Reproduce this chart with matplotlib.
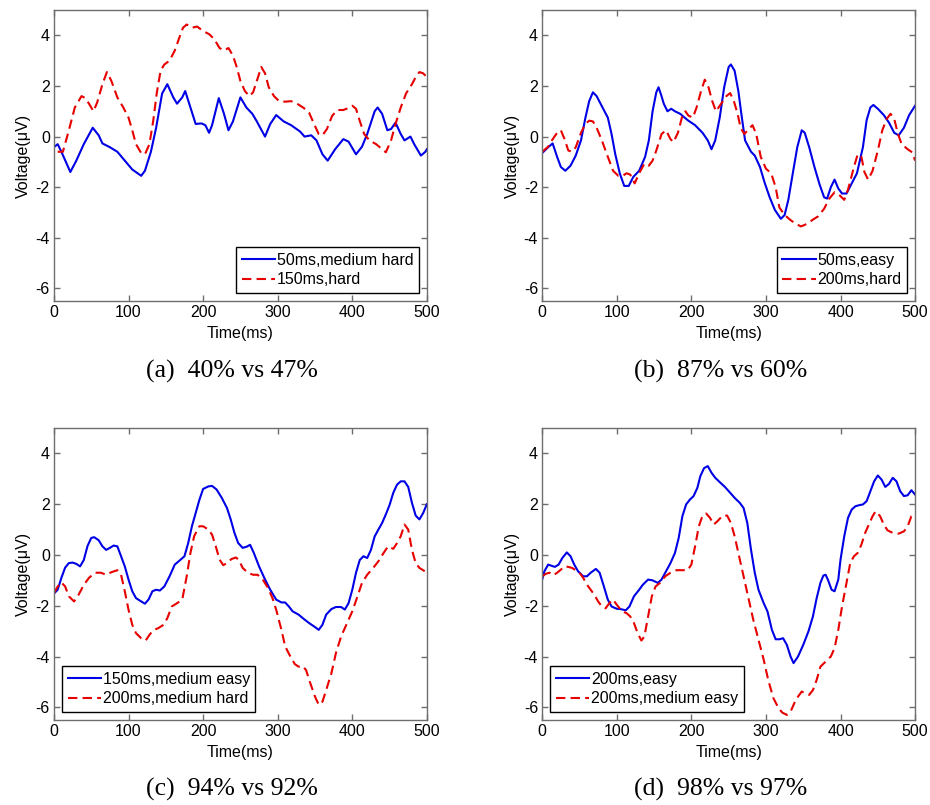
import matplotlib
matplotlib.use('Agg')
import matplotlib.pyplot as plt

plt.rcParams['font.family'] = ['Liberation Sans', 'DejaVu Sans']
plt.rcParams['axes.unicode_minus'] = False

# ---- panel (a) ----
a_blue_t = [0, 5, 10, 22, 30, 40, 52, 60, 65, 75, 85, 95, 105, 117, 122, 130, 137, 145, 152, 160,
            165, 172, 176, 183, 190, 198, 203, 208, 212, 221, 228, 234, 240, 250, 258, 266, 272,
            283, 290, 298, 308, 318, 330, 336, 345, 352, 360, 367, 377, 388, 395, 405, 413, 420,
            430, 434, 440, 447, 452, 458, 465, 470, 478, 483, 492, 498, 500]
a_blue_v = [-0.42, -0.3, -0.6, -1.4, -0.95, -0.3, 0.35, 0.05, -0.27, -0.42, -0.6, -0.95, -1.3,
            -1.55, -1.35, -0.6, 0.35, 1.7, 2.07, 1.55, 1.3, 1.55, 1.8, 1.15, 0.5, 0.52, 0.45, 0.15,
            0.45, 1.52, 0.9, 0.25, 0.6, 1.55, 1.15, 0.9, 0.6, 0.0, 0.5, 0.85, 0.6, 0.45, 0.2, 0.0,
            0.05, -0.15, -0.7, -0.95, -0.5, -0.1, -0.2, -0.7, -0.4, 0.1, 1.0, 1.15, 0.9, 0.25, 0.3,
            0.55, 0.1, -0.15, 0.0, -0.3, -0.75, -0.6, -0.5]
a_red_t = [5, 12, 20, 28, 37, 42, 47, 53, 58, 65, 71, 77, 85, 93, 100, 105, 110, 117, 122, 128,
           133, 138, 143, 148, 155, 162, 168, 173, 178, 185, 192, 200, 208, 215, 222, 228, 234,
           240, 245, 250, 256, 262, 267, 272, 278, 283, 288, 295, 302, 310, 318, 326, 335, 342,
           348, 355, 360, 366, 373, 380, 388, 395, 400, 405, 410, 416, 423, 432, 440, 445, 452,
           458, 465, 472, 480, 485, 490, 495, 500]
a_red_v = [-0.6, -0.6, 0.25, 1.15, 1.6, 1.52, 1.3, 1.0, 1.35, 2.07, 2.55, 2.2, 1.55, 1.15, 0.75,
           0.25, -0.3, -0.65, -0.7, -0.3, 0.6, 1.75, 2.6, 2.85, 3.0, 3.4, 3.9, 4.3, 4.43, 4.3,
           4.35, 4.17, 4.05, 3.85, 3.5, 3.4, 3.5, 3.2, 2.75, 2.2, 1.8, 1.6, 1.75, 2.2, 2.75, 2.5,
           1.95, 1.6, 1.4, 1.38, 1.4, 1.3, 1.13, 0.95, 0.55, 0.1, 0.05, 0.3, 0.82, 1.05, 1.05,
           1.13, 1.22, 1.1, 0.62, 0.1, -0.15, -0.3, -0.5, -0.62, -0.15, 0.5, 1.15, 1.7, 2.07,
           2.35, 2.55, 2.5, 2.35]

# ---- panel (b) ----
b_blue_t = [0, 8, 14, 20, 25, 31, 38, 45, 52, 58, 63, 68, 73, 80, 88, 93, 98, 104, 110, 116, 122,
            130, 138, 143, 148, 153, 156, 160, 163, 168, 173, 178, 185, 195, 205, 215, 222, 227,
            232, 238, 244, 250, 253, 258, 263, 267, 272, 280, 285, 292, 298, 305, 312, 320, 325,
            330, 336, 342, 348, 352, 358, 365, 372, 378, 382, 387, 392, 397, 402, 408, 415, 422,
            430, 435, 440, 444, 450, 458, 465, 472, 478, 485, 492, 500]
b_blue_v = [-0.65, -0.42, -0.27, -0.8, -1.2, -1.35, -1.15, -0.75, -0.15, 0.75, 1.4, 1.75, 1.6,
            1.2, 0.75, 0.1, -0.7, -1.45, -1.95, -1.95, -1.6, -1.35, -0.8, -0.15, 1.0, 1.75, 1.95,
            1.6, 1.3, 1.0, 1.1, 1.0, 0.9, 0.65, 0.45, 0.15, -0.15, -0.5, -0.15, 0.75, 1.95, 2.75,
            2.85, 2.6, 1.8, 0.9, -0.15, -0.6, -0.75, -1.2, -1.8, -2.4, -2.9, -3.25, -3.1, -2.5,
            -1.45, -0.42, 0.25, 0.15, -0.42, -1.2, -1.9, -2.4, -2.45, -2.0, -1.7, -2.05, -2.25,
            -2.25, -1.85, -1.45, -0.42, 0.65, 1.15, 1.25, 1.1, 0.85, 0.55, 0.15, 0.05, 0.35, 0.85,
            1.22]
b_red_t = [0, 8, 13, 20, 25, 30, 35, 40, 45, 52, 58, 63, 68, 73, 80, 88, 95, 102, 108, 113, 118,
           124, 130, 137, 143, 148, 153, 160, 166, 172, 176, 182, 188, 192, 196, 202, 207, 213,
           218, 223, 228, 233, 240, 247, 252, 257, 262, 266, 271, 277, 282, 287, 293, 300, 307,
           313, 318, 325, 333, 340, 347, 355, 362, 370, 378, 385, 392, 398, 405, 410, 418, 423,
           428, 432, 437, 443, 450, 456, 462, 467, 472, 477, 482, 490, 496, 500]
b_red_v = [-0.6, -0.4, -0.15, 0.15, 0.25, -0.1, -0.55, -0.6, -0.42, 0.15, 0.5, 0.63, 0.6, 0.35,
           -0.15, -0.8, -1.35, -1.55, -1.55, -1.45, -1.5, -1.85, -1.45, -1.07, -1.15, -0.95,
           -0.55, 0.1, 0.25, -0.1, -0.22, 0.15, 0.83, 1.0, 0.83, 0.75, 1.15, 1.8, 2.25, 1.95, 1.4,
           1.0, 1.3, 1.6, 1.72, 1.4, 0.9, 0.35, 0.1, 0.3, 0.45, 0.1, -0.8, -1.27, -1.45, -2.0,
           -2.8, -3.1, -3.3, -3.45, -3.55, -3.45, -3.3, -3.15, -2.85, -2.45, -2.2, -2.3, -2.5,
           -2.1, -1.2, -0.7, -0.8, -1.4, -1.7, -1.35, -0.55, 0.25, 0.7, 0.9, 0.7, 0.1, -0.3, -0.5,
           -0.62, -0.95]

# ---- panel (c) ----
c_blue_t = [0, 5, 10, 15, 20, 25, 30, 35, 40, 45, 50, 54, 60, 65, 70, 75, 80, 85, 90, 95, 100,
            105, 110, 117, 122, 127, 132, 137, 142, 148, 155, 162, 170, 175, 180, 185, 190, 195,
            200, 207, 212, 218, 225, 232, 237, 242, 247, 253, 258, 263, 268, 275, 282, 290, 298,
            305, 310, 315, 320, 328, 335, 342, 350, 355, 360, 365, 372, 378, 385, 390, 395, 400,
            405, 410, 415, 420, 425, 430, 435, 440, 445, 450, 455, 460, 465, 470, 475, 480, 485,
            490, 495, 500]
c_blue_v = [-1.52, -1.37, -0.9, -0.5, -0.32, -0.3, -0.35, -0.45, -0.2, 0.35, 0.67, 0.7, 0.58,
            0.34, 0.2, 0.28, 0.37, 0.34, -0.05, -0.45, -0.97, -1.43, -1.7, -1.83, -1.92, -1.75,
            -1.43, -1.37, -1.4, -1.24, -0.84, -0.38, -0.18, -0.05, 0.47, 1.13, 1.65, 2.17, 2.6,
            2.7, 2.72, 2.58, 2.25, 1.85, 1.4, 0.87, 0.47, 0.28, 0.32, 0.4, 0.08, -0.45, -0.9,
            -1.37, -1.76, -1.87, -1.87, -2.03, -2.22, -2.35, -2.52, -2.68, -2.84, -2.95, -2.75,
            -2.35, -2.13, -2.05, -2.05, -2.15, -1.9, -1.37, -0.7, -0.2, -0.05, -0.12, 0.2, 0.73,
            1.0, 1.26, 1.6, 1.97, 2.45, 2.77, 2.9, 2.9, 2.68, 2.05, 1.55, 1.4, 1.65, 2.0]
c_red_t = [0, 5, 10, 15, 20, 27, 33, 40, 47, 55, 63, 70, 77, 85, 90, 95, 100, 105, 110, 117, 123,
           128, 133, 140, 147, 152, 158, 165, 172, 178, 183, 188, 195, 200, 207, 212, 217, 222,
           227, 232, 238, 244, 248, 253, 260, 267, 273, 280, 287, 293, 298, 305, 310, 317, 323,
           328, 333, 338, 343, 350, 355, 360, 365, 372, 378, 385, 392, 400, 407, 413, 420, 428,
           435, 442, 448, 455, 460, 465, 470, 475, 480, 485, 490, 495, 500]
c_red_v = [-1.5, -1.24, -1.08, -1.24, -1.63, -1.83, -1.57, -1.18, -0.9, -0.7, -0.7, -0.78, -0.68,
           -0.6, -0.78, -1.43, -2.16, -2.75, -3.08, -3.28, -3.37, -3.15, -2.97, -2.88, -2.75,
           -2.49, -2.03, -1.9, -1.76, -0.84, 0.08, 0.74, 1.13, 1.13, 1.0, 0.8, 0.34, -0.18, -0.4,
           -0.32, -0.16, -0.1, -0.2, -0.51, -0.7, -0.78, -0.78, -0.97, -1.3, -1.7, -2.16, -2.95,
           -3.6, -4.0, -4.3, -4.4, -4.37, -4.53, -4.99, -5.58, -5.9, -5.78, -5.32, -4.66, -3.87,
           -3.21, -2.75, -2.22, -1.63, -1.1, -0.78, -0.51, -0.25, 0.08, 0.34, 0.24, 0.47, 0.74,
           1.2, 1.0, 0.2, -0.32, -0.51, -0.6, -0.7]

# ---- panel (d) ----
d_blue_t = [0, 3, 8, 12, 17, 22, 27, 33, 38, 43, 48, 55, 60, 65, 72, 77, 82, 88, 93, 100, 105,
            112, 117, 123, 130, 135, 142, 148, 155, 160, 165, 172, 178, 183, 188, 193, 198, 203,
            208, 212, 217, 222, 227, 232, 238, 245, 252, 258, 265, 270, 275, 280, 285, 290, 297,
            302, 308, 313, 318, 323, 328, 333, 337, 343, 350, 357, 363, 368, 373, 377, 380, 383,
            388, 392, 397, 400, 405, 410, 415, 420, 425, 430, 435, 440, 445, 450, 455, 460, 465,
            470, 475, 480, 485, 490, 495, 500]
d_blue_v = [-0.97, -0.64, -0.38, -0.42, -0.47, -0.38, -0.12, 0.1, -0.05, -0.38, -0.64, -0.84,
            -0.84, -0.7, -0.55, -0.7, -1.17, -1.76, -2.03, -2.12, -2.13, -2.18, -2.03, -1.63,
            -1.37, -1.17, -0.97, -1.0, -1.1, -0.97, -0.7, -0.32, 0.08, 0.67, 1.53, 1.99, 2.18,
            2.32, 2.64, 3.1, 3.42, 3.5, 3.24, 3.04, 2.87, 2.68, 2.45, 2.25, 2.05, 1.85, 1.26, 0.2,
            -0.7, -1.37, -1.9, -2.22, -2.95, -3.32, -3.32, -3.28, -3.54, -4.0, -4.26, -4.0, -3.54,
            -3.01, -2.42, -1.7, -1.1, -0.81, -0.78, -0.97, -1.37, -1.43, -0.97, -0.18, 0.74, 1.46,
            1.79, 1.92, 1.96, 1.99, 2.12, 2.51, 2.9, 3.13, 2.97, 2.68, 2.8, 3.04, 2.9, 2.51, 2.32,
            2.35, 2.55, 2.38]
d_red_t = [0, 5, 10, 15, 20, 25, 30, 35, 40, 45, 50, 55, 60, 65, 70, 75, 80, 85, 90, 95, 100, 107,
           113, 118, 123, 128, 133, 137, 142, 147, 152, 158, 165, 172, 180, 188, 195, 200, 205,
           210, 215, 220, 225, 230, 235, 242, 248, 253, 258, 263, 270, 277, 283, 290, 297, 303,
           310, 317, 322, 328, 333, 338, 343, 348, 353, 358, 363, 368, 373, 380, 387, 392, 397,
           402, 408, 413, 418, 423, 428, 433, 438, 443, 447, 453, 458, 463, 470, 478, 485, 490,
           495, 500]
d_red_v = [-0.84, -0.74, -0.7, -0.8, -0.7, -0.58, -0.45, -0.47, -0.51, -0.6, -0.7, -0.9, -1.17,
           -1.37, -1.57, -1.83, -2.03, -2.1, -1.9, -1.76, -1.96, -2.22, -2.29, -2.42, -2.68,
           -3.08, -3.37, -3.21, -2.42, -1.63, -1.24, -1.1, -0.84, -0.7, -0.6, -0.6, -0.6, -0.38,
           0.34, 1.13, 1.55, 1.63, 1.46, 1.2, 1.33, 1.55, 1.55, 1.26, 0.74, 0.08, -0.84, -1.76,
           -2.55, -3.34, -4.13, -4.92, -5.64, -6.04, -6.21, -6.3, -6.17, -5.84, -5.58, -5.38,
           -5.45, -5.51, -5.32, -4.92, -4.4, -4.2, -4.0, -3.67, -2.95, -2.03, -1.1, -0.32, -0.05,
           0.08, 0.41, 0.87, 1.2, 1.53, 1.72, 1.53, 1.2, 0.97, 0.87, 0.84, 0.93, 1.13, 1.53, 1.59]

panels = [
    (a_blue_t, a_blue_v, a_red_t, a_red_v, '50ms,medium hard', '150ms,hard', 'lower right', '(a)  40% vs 47%'),
    (b_blue_t, b_blue_v, b_red_t, b_red_v, '50ms,easy', '200ms,hard', 'lower right', '(b)  87% vs 60%'),
    (c_blue_t, c_blue_v, c_red_t, c_red_v, '150ms,medium easy', '200ms,medium hard', 'lower left', '(c)  94% vs 92%'),
    (d_blue_t, d_blue_v, d_red_t, d_red_v, '200ms,easy', '200ms,medium easy', 'lower left', '(d)  98% vs 97%'),
]

# axes rectangles [left, bottom, width, height] in figure fractions
rects = [[0.058, 0.626, 0.401, 0.3615], [0.583, 0.626, 0.401, 0.3615],
         [0.058, 0.1056, 0.401, 0.3627], [0.583, 0.1056, 0.401, 0.3627]]
caption_y = [0.538, 0.538, 0.019, 0.019]

fig = plt.figure(figsize=(9.3, 8.05), dpi=100)
for i, (bt, bv, rt, rv, lb, lr, loc, cap) in enumerate(panels):
    ax = fig.add_axes(rects[i])
    ax.plot(bt, bv, color='#0000e6', lw=1.5, label=lb)
    ax.plot(rt, rv, color='#e60000', lw=1.5, ls=(0, (4.5, 2.5)), label=lr)
    ax.set_xlim(0, 500)
    ax.set_ylim(-6.5, 5)
    ax.set_xticks([0, 100, 200, 300, 400, 500])
    ax.set_yticks([-6, -4, -2, 0, 2, 4])
    ax.tick_params(direction='in', length=4, width=1, top=True, right=True,
                   labelsize=11.5, color='#6e6e6e', pad=3)
    for s in ax.spines.values():
        s.set_color('#6e6e6e')
        s.set_linewidth(1)
    ax.set_xlabel('Time(ms)', fontsize=11.5, labelpad=4.5)
    ax.set_ylabel('Voltage(μV)', fontsize=11.5, labelpad=3)
    leg = ax.legend(loc=loc, fontsize=11.5, handlelength=2.1, handletextpad=0.1,
                    labelspacing=0.3, borderpad=0.35, borderaxespad=0.5, fancybox=False,
                    framealpha=1)
    leg.get_frame().set_edgecolor('black')
    leg.get_frame().set_linewidth(1)
    cx = rects[i][0] + rects[i][2] / 2 - 0.009
    fig.text(cx, caption_y[i], cap, ha='center', va='center', fontsize=18.5,
             family='Liberation Serif')

fig.savefig('out.png', dpi=100)
